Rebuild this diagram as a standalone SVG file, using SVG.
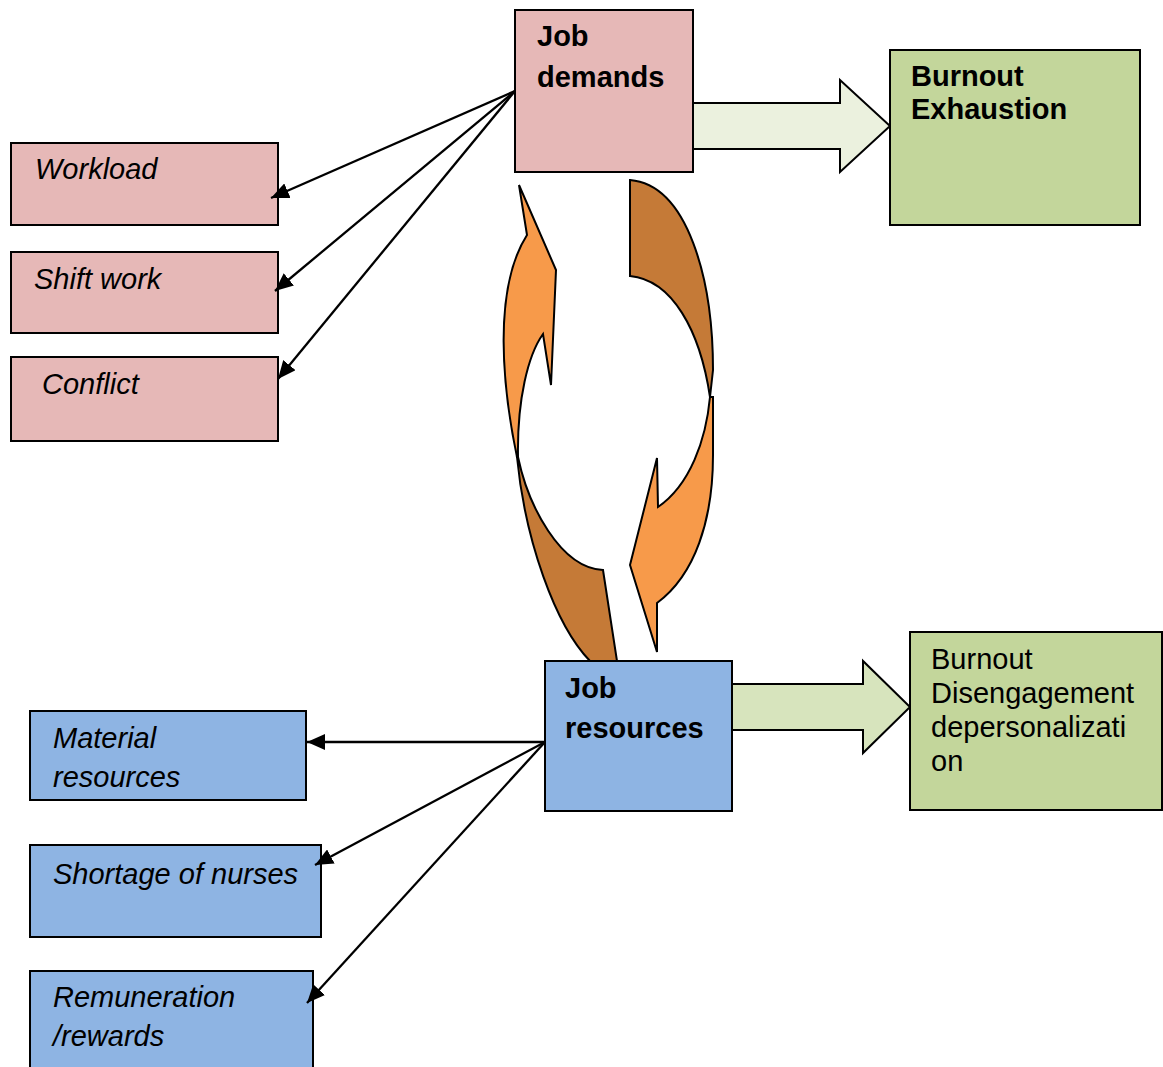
<svg xmlns="http://www.w3.org/2000/svg" width="1163" height="1067" viewBox="0 0 1163 1067">
<style>
.box{stroke:#000;stroke-width:2}
.pink{fill:#e6b8b7}
.blue{fill:#8eb4e3}
.green{fill:#c3d69b}
.t{font-family:"Liberation Sans",Arial,sans-serif;font-size:29px;fill:#000}
.b{font-weight:bold}
.i{font-style:italic}
.con{stroke:#000;stroke-width:2.3;fill:none;marker-end:url(#ah)}
.shape{stroke:#000;stroke-width:2;stroke-linejoin:miter}
</style>
<defs>
<marker id="ah" markerUnits="userSpaceOnUse" markerWidth="20" markerHeight="16" refX="18" refY="8" orient="auto">
<path d="M0,0 L18,8 L0,16 Z" fill="#000"/>
</marker>
</defs>
<rect width="1163" height="1067" fill="#fff"/>

<g id="cycle-arrows">
<path class="shape" fill="#c57a37" d="M518,457 C528,505 560,568 603,570 L617,661 L590,661 C555,625 525,540 517,457 Z"/>
<path class="shape" fill="#f79a4a" d="M517,457 C503,390 492,290 527,235 L519,185 L556,270 L551,385 L543,334 C528,355 517,400 518,457 Z"/>
<path class="shape" fill="#c57a37" d="M630,180 C688,185 713,280 713,370 L710,397 C700,330 672,280 630,276 Z"/>
<path class="shape" fill="#f79a4a" d="M710,397 C706,440 690,485 658,507 L657,458 L630,565 L657,652 L657,603 C695,575 713,520 713,455 L713,397 Z"/>
</g>

<g id="block-arrows">
<path class="shape" fill="#ebf1de" d="M693,103 L840,103 L840,80 L890,126 L840,172 L840,149 L693,149 Z"/>
<path class="shape" fill="#d7e4bd" d="M732,684 L863,684 L863,661 L910,707 L863,753 L863,730 L732,730 Z"/>
</g>

<g id="job-demands">
<rect class="box pink" x="515" y="10" width="178" height="162"/>
<text class="t b" x="537" y="46">Job</text>
<text class="t b" x="537" y="87">demands</text>
</g>
<g id="burnout-exhaustion">
<rect class="box green" x="890" y="50" width="250" height="175"/>
<text class="t b" x="911" y="86">Burnout</text>
<text class="t b" x="911" y="119">Exhaustion</text>
</g>
<g id="workload">
<rect class="box pink" x="11" y="143" width="267" height="82"/>
<text class="t i" x="35" y="179">Workload</text>
</g>
<g id="shift-work">
<rect class="box pink" x="11" y="252" width="267" height="81"/>
<text class="t i" x="34" y="289">Shift work</text>
</g>
<g id="conflict">
<rect class="box pink" x="11" y="357" width="267" height="84"/>
<text class="t i" x="42" y="394">Conflict</text>
</g>
<g id="job-resources">
<rect class="box blue" x="545" y="661" width="187" height="150"/>
<text class="t b" x="565" y="698">Job</text>
<text class="t b" x="565" y="738">resources</text>
</g>
<g id="burnout-disengagement">
<rect class="box green" x="910" y="632" width="252" height="178"/>
<text class="t" x="931" y="669">Burnout</text>
<text class="t" x="931" y="703">Disengagement</text>
<text class="t" x="931" y="737">depersonalizati</text>
<text class="t" x="931" y="771">on</text>
</g>
<g id="material-resources">
<rect class="box blue" x="30" y="711" width="276" height="89"/>
<text class="t i" x="53" y="748">Material</text>
<text class="t i" x="53" y="787">resources</text>
</g>
<g id="shortage-of-nurses">
<rect class="box blue" x="30" y="845" width="291" height="92"/>
<text class="t i" x="53" y="884">Shortage of nurses</text>
</g>
<g id="remuneration">
<rect class="box blue" x="30" y="971" width="283" height="100"/>
<text class="t i" x="53" y="1007">Remuneration</text>
<text class="t i" x="53" y="1046">/rewards</text>
</g>

<g id="connectors">
<line class="con" x1="515" y1="91" x2="271" y2="198"/>
<line class="con" x1="515" y1="91" x2="275" y2="291"/>
<line class="con" x1="515" y1="91" x2="278" y2="379"/>
<line class="con" x1="545" y1="742" x2="307" y2="742"/>
<line class="con" x1="545" y1="742" x2="315" y2="865"/>
<line class="con" x1="545" y1="742" x2="307" y2="1003"/>
</g>
</svg>
